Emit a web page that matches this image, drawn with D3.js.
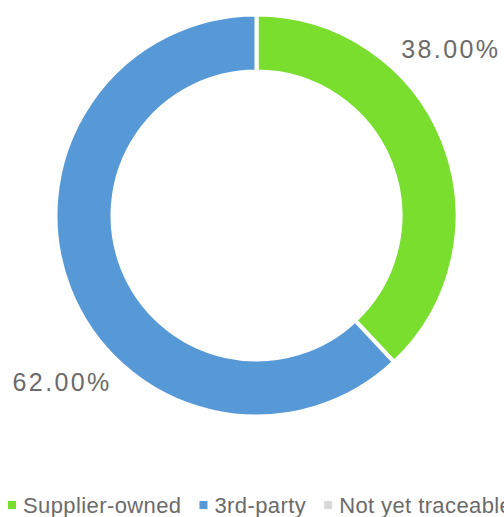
<!DOCTYPE html>
<head>
    <title>Traceability</title>
    <script src="https://cdn.jsdelivr.net/npm/d3@7"></script>
    <style>
        body { margin: 0; background: #fff; overflow: hidden; }
        svg { display: block; font-family: "Liberation Sans", Arial, sans-serif; }
    </style>
</head>
<body>
<div id="container"></div>

<script>

// Données
const categories = ["Supplier-owned", "3rd-party", "Not yet traceable"];
const values = [38, 62, 0];
const colors = ["#7ade2f", "#5699d6", "#d9d9d9"];

// Dimensions
const width = 504;
const height = 517;
const cx = 256.5;
const cy = 215.5;
const outerR = 201;
const innerR = 144;

const svg = d3.create("svg")
              .attr("width", width)
              .attr("height", height);

// on attache le svg tout de suite pour pouvoir mesurer les textes
container.append(svg.node());

const pie = d3.pie()
              .sort(null)
              .value(d => d.value);

const arcs = pie(categories.map((c, i) => ({ name: c, value: values[i], color: colors[i] })))
               .filter(d => d.data.value > 0);

const arc = d3.arc()
              .innerRadius(innerR)
              .outerRadius(outerR);

const g = svg.append("g")
             .attr("transform", `translate(${cx},${cy})`);

g.selectAll("path")
    .data(arcs)
    .enter().append("path")
    .attr("d", arc)
    .style("fill", d => d.data.color)
    .style("stroke", "white")
    .style("stroke-width", 4);

// Étiquettes des pourcentages
const labelR = 256;
const total = d3.sum(values);
const labelAngle = d => (d.startAngle + d.endAngle) / 2 - 19 * Math.PI / 180;
g.selectAll("text")
    .data(arcs)
    .enter().append("text")
    .attr("x", d => labelR * Math.sin(labelAngle(d)))
    .attr("y", d => -labelR * Math.cos(labelAngle(d)))
    .attr("text-anchor", "middle")
    .attr("dominant-baseline", "central")
    .style("font-size", "25px")
    .style("letter-spacing", "2.4px")
    .style("fill", "#6b6b6b")
    .text(d => (d.data.value / total * 100).toFixed(2) + "%");

// Légende
const legend = svg.append("g")
                  .attr("transform", "translate(8,513)");

let xPos = 0;
categories.forEach((c, i) => {
    const item = legend.append("g").attr("transform", `translate(${xPos},0)`);
    item.append("rect")
        .attr("x", 0)
        .attr("y", -12)
        .attr("width", 8)
        .attr("height", 8)
        .style("fill", colors[i]);
    const t = item.append("text")
        .attr("x", 15)
        .attr("y", 0)
        .style("font-size", "22px")
        .style("letter-spacing", "0.4px")
        .style("fill", "#6b6b6b")
        .text(c);
    xPos += 15 + t.node().getComputedTextLength() + 18;
});

</script>
</body>
